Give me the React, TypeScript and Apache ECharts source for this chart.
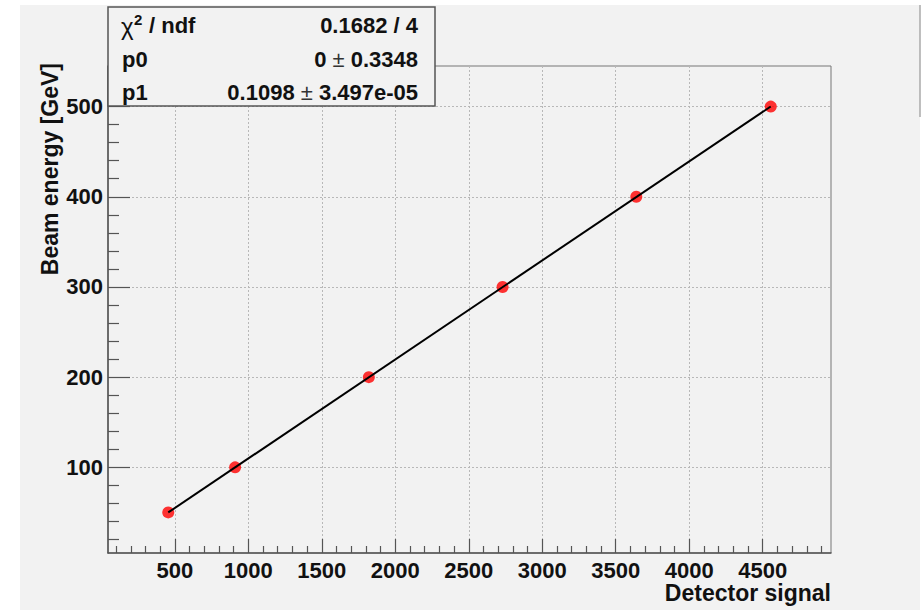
import React, { useEffect, useRef } from "react";
import * as echarts from "echarts";

// ---- data ----
const detectorSignal = [455, 910, 1820, 2730, 3640, 4555];
const beamEnergy = [50, 100, 200, 300, 400, 500];

const fitP0 = 0;
const fitP1 = 0.1098;

const xRange = [45, 4965];
const yRange = [5, 545];

const xMajorTicks = [500, 1000, 1500, 2000, 2500, 3000, 3500, 4000, 4500];
const yMajorTicks = [100, 200, 300, 400, 500];
const xMinorStep = 100;
const yMinorStep = 20;

const statsLabels = ["", "p0", "p1"];
const statsValues = ["0.1682 / 4", "0 {pm|±} 0.3348", "0.1098 {pm|±} 3.497e-05"];

const xTitle = "Detector signal";
const yTitle = "Beam energy [GeV]";

function minorTicks(range: number[], step: number, majors: number[]) {
  const out: number[] = [];
  const start = Math.ceil(range[0] / step) * step;
  for (let v = start; v <= range[1]; v += step) {
    if (majors.indexOf(v) < 0) out.push(v);
  }
  return out;
}

const FONT = "'Liberation Sans', Arial, Helvetica, sans-serif";

export default function App() {
  const ref = useRef<HTMLDivElement>(null);

  useEffect(() => {
    if (!ref.current) return;
    const chart = echarts.init(ref.current, null, { renderer: "svg" });

    const gridLeft = 108;
    const gridTop = 66;
    const gridRight = 831;
    const gridBottom = 553;

    const fitLine = [
      [detectorSignal[0], fitP0 + fitP1 * detectorSignal[0]],
      [
        detectorSignal[detectorSignal.length - 1],
        fitP0 + fitP1 * detectorSignal[detectorSignal.length - 1],
      ],
    ];

    const labelStyle = {
      fontFamily: FONT,
      fontWeight: "bold" as const,
      fontSize: 22,
      color: "#111",
      formatter: (v: number) => String(v),
    };

    const rowY = [25, 59, 92];

    const option: any = {
      animation: false,
      backgroundColor: "#ffffff",
      grid: {
        left: gridLeft,
        top: gridTop,
        right: 924 - gridRight,
        bottom: 610 - gridBottom,
        containLabel: false,
        outerBoundsMode: "none",
        show: true,
        borderColor: "#777",
        borderWidth: 1,
        backgroundColor: "transparent",
      },
      xAxis: [
        {
          type: "value",
          min: xRange[0],
          max: xRange[1],
          position: "bottom",
          axisLine: { show: true, onZero: false, lineStyle: { color: "#555", width: 1.5 } },
          axisTick: {
            show: true,
            inside: true,
            length: 14,
            customValues: xMajorTicks,
            lineStyle: { color: "#555", width: 1.2 },
          },
          axisLabel: { ...labelStyle, margin: 6, customValues: xMajorTicks },
          splitLine: {
            show: true,
            lineStyle: { color: "#b8b8b8", type: [2, 2], width: 1 },
          },
        },
        {
          type: "value",
          min: xRange[0],
          max: xRange[1],
          position: "bottom",
          axisLine: { show: false },
          axisTick: {
            show: true,
            inside: true,
            length: 7,
            customValues: minorTicks(xRange, xMinorStep, xMajorTicks),
            lineStyle: { color: "#555", width: 1.2 },
          },
          axisLabel: { show: false },
          splitLine: { show: false },
        },
      ],
      yAxis: [
        {
          type: "value",
          min: yRange[0],
          max: yRange[1],
          position: "left",
          axisLine: { show: true, onZero: false, lineStyle: { color: "#555", width: 1.5 } },
          axisTick: {
            show: true,
            inside: true,
            length: 22,
            customValues: yMajorTicks,
            lineStyle: { color: "#555", width: 1.2 },
          },
          axisLabel: { ...labelStyle, margin: 5, customValues: yMajorTicks },
          splitLine: {
            show: true,
            lineStyle: { color: "#b8b8b8", type: [2, 2], width: 1 },
          },
        },
        {
          type: "value",
          min: yRange[0],
          max: yRange[1],
          position: "left",
          axisLine: { show: false },
          axisTick: {
            show: true,
            inside: true,
            length: 11,
            customValues: minorTicks(yRange, yMinorStep, yMajorTicks),
            lineStyle: { color: "#555", width: 1.2 },
          },
          axisLabel: { show: false },
          splitLine: { show: false },
        },
      ],
      series: [
        {
          name: "data",
          type: "scatter",
          xAxisIndex: 0,
          yAxisIndex: 0,
          data: detectorSignal.map((x, i) => [x, beamEnergy[i]]),
          symbol: "circle",
          symbolSize: 12,
          itemStyle: { color: "#ff0000" },
          z: 3,
        },
        {
          name: "fit",
          type: "line",
          xAxisIndex: 0,
          yAxisIndex: 0,
          data: fitLine,
          showSymbol: false,
          symbol: "none",
          lineStyle: { color: "#000", width: 2 },
          z: 4,
        },
      ],
      graphic: [
        {
          type: "rect",
          z: -10,
          silent: true,
          shape: { x: 20, y: 5, width: 900, height: 605 },
          style: { fill: "#f2f2f2" },
        },
        {
          type: "line",
          z: -9,
          silent: true,
          shape: { x1: 920, y1: 5, x2: 920, y2: 117 },
          style: { stroke: "#aaa", lineWidth: 1.5 },
        },
        {
          type: "text",
          z: 10,
          x: gridRight,
          y: 593,
          style: {
            text: xTitle,
            align: "right",
            verticalAlign: "middle",
            font: `bold 23px ${FONT}`,
            fill: "#111",
          },
        },
        {
          type: "text",
          z: 10,
          x: 50,
          y: 63,
          rotation: Math.PI / 2,
          style: {
            text: yTitle,
            align: "right",
            verticalAlign: "middle",
            font: `bold 23px ${FONT}`,
            fill: "#111",
          },
        },
        {
          type: "group",
          z: 100,
          children: [
            {
              type: "rect",
              z: 100,
              shape: { x: 108, y: 7, width: 327, height: 99 },
              style: { fill: "#f2f2f2", stroke: "#555", lineWidth: 1.5 },
            },
            // chi^2 / ndf label
            {
              type: "text",
              z: 101,
              x: 121,
              y: rowY[0] + 1,
              style: {
                text: "χ",
                align: "left",
                verticalAlign: "middle",
                font: `normal 24px ${FONT}`,
                fill: "#111",
              },
            },
            {
              type: "text",
              z: 101,
              x: 134,
              y: rowY[0] - 6,
              style: {
                text: "2",
                align: "left",
                verticalAlign: "middle",
                font: `bold 15px ${FONT}`,
                fill: "#111",
              },
            },
            {
              type: "text",
              z: 101,
              x: 149,
              y: rowY[0],
              style: {
                text: "/ ndf",
                align: "left",
                verticalAlign: "middle",
                font: `bold 22px ${FONT}`,
                fill: "#111",
              },
            },
            ...statsLabels.map((t, i) => ({
              type: "text",
              z: 101,
              x: 122,
              y: rowY[i],
              style: {
                text: t,
                align: "left",
                verticalAlign: "middle",
                font: `bold 22px ${FONT}`,
                fill: "#111",
              },
            })),
            ...statsValues.map((t, i) => ({
              type: "text",
              z: 101,
              x: 418,
              y: rowY[i],
              style: {
                text: t,
                align: "right",
                verticalAlign: "middle",
                font: `bold 22px ${FONT}`,
                fill: "#111",
                rich: {
                  pm: {
                    fontFamily: FONT,
                    fontWeight: "normal",
                    fontSize: 22,
                    fill: "#333",
                  },
                },
              },
            })),
          ],
        },
      ],
    };

    chart.setOption(option);
    return () => chart.dispose();
  }, []);

  return (
    <div
      ref={ref}
      style={{ position: "absolute", left: 0, top: 0, width: 924, height: 610 }}
    />
  );
}
